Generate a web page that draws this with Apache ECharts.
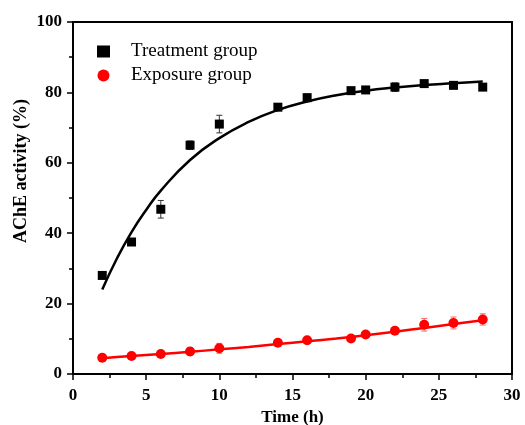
<!DOCTYPE html>
<html><head><meta charset="utf-8">
<script src="https://cdn.jsdelivr.net/npm/echarts@6/dist/echarts.min.js"></script>
<style>html,body{margin:0;padding:0;background:#fff}#c{width:525px;height:425px}</style>
</head><body><div id="c"></div>
<script>
var timeH = [2, 4, 6, 8, 10, 14, 16, 19, 20, 22, 24, 26, 28];
var treatment = [28, 37.5, 46.8, 65, 71, 75.8, 78.5, 80.5, 80.7, 81.5, 82.5, 82, 81.5];
var treatmentErr = [0.8, 0.6, 2.5, 1.2, 2.5, 0.6, 1.0, 0.5, 0.8, 1.2, 0.6, 0.6, 0.6];
var exposure = [4.6, 5.1, 5.7, 6.4, 7.3, 8.9, 9.6, 10.1, 11.2, 12.3, 14.0, 14.5, 15.5];
var exposureErr = [0.4, 0.4, 0.7, 1.0, 1.4, 0.5, 0.5, 0.5, 0.7, 0.6, 1.8, 1.7, 1.6];
var fitX = [2, 3, 4, 5, 6, 8, 10, 12, 14, 16, 18, 20, 22, 24, 26, 28];
var treatmentFit = [24, 32.8, 40.3, 46.6, 52.1, 60.8, 67, 71.6, 75, 77.4, 79.2, 80.5, 81.4, 82.1, 82.6, 83.1];
var exposureFit = [4.5, 4.8, 5.1, 5.4, 5.7, 6.3, 7.0, 7.7, 8.5, 9.3, 10.1, 11.0, 12.0, 13.1, 14.2, 15.3];
var xTicks = [0, 5, 10, 15, 20, 25, 30];
var yTicks = [0, 20, 40, 60, 80, 100];

function pairs(xs, ys){ return xs.map(function(x,i){ return [x, ys[i]]; }); }
function errData(xs, ys, es){ return xs.map(function(x,i){ return [x, ys[i], es[i]]; }); }
function errSeries(data, color){
  return {
    type:'custom', data:data, z:3, silent:true,
    renderItem:function(params, api){
      var x = api.value(0), y = api.value(1), e = api.value(2);
      var hi = api.coord([x, y+e]), lo = api.coord([x, y-e]);
      var w = 3;
      return {type:'group', children:[
        {type:'line', shape:{x1:hi[0],y1:hi[1],x2:lo[0],y2:lo[1]}, style:{stroke:color,lineWidth:1}},
        {type:'line', shape:{x1:hi[0]-w,y1:hi[1],x2:hi[0]+w,y2:hi[1]}, style:{stroke:color,lineWidth:1}},
        {type:'line', shape:{x1:lo[0]-w,y1:lo[1],x2:lo[0]+w,y2:lo[1]}, style:{stroke:color,lineWidth:1}}
      ]};
    }
  };
}
var serif = '"Liberation Serif","Times New Roman",serif';
var chart = echarts.init(document.getElementById('c'));
var axisCommon = {
  axisLine:{show:true, onZero:false, lineStyle:{color:'#000', width:2}},
  axisTick:{show:true, inside:false, length:6, lineStyle:{color:'#000', width:1.5}},
  minorTick:{show:true, splitNumber:2, length:4, lineStyle:{color:'#000', width:1.5}},
  splitLine:{show:false},
  axisLabel:{color:'#000', fontFamily:serif, fontWeight:'bold', fontSize:17},
  nameTextStyle:{color:'#000', fontFamily:serif, fontWeight:'bold', fontSize:17}
};
chart.setOption({
  animation:false,
  backgroundColor:'#fff',
  grid:{left:73, right:13, top:22, bottom:51, show:false, containLabel:false, outerBoundsMode:'none'},
  legend:{
    left:92, top:37, orient:'vertical', itemGap:5, itemWidth:13, itemHeight:12,
    textStyle:{fontFamily:serif, fontSize:19, color:'#000', padding:[0,0,0,16]},
    data:[{name:'Treatment group', icon:'rect'},{name:'Exposure group', icon:'circle'}]
  },
  graphic:[{
    type:'text', x:21, y:171, rotation:Math.PI/2,
    style:{text:'AChE activity (%)', fontFamily:serif, fontWeight:'bold', fontSize:18, fill:'#000', align:'center', verticalAlign:'middle'}
  }],
  xAxis:[Object.assign({}, axisCommon, {
    type:'value', min:0, max:30, interval:5, name:'Time (h)', nameLocation:'middle', nameGap:35,
    axisLabel:Object.assign({}, axisCommon.axisLabel, {margin:13})
  }), {
    type:'value', position:'top', min:0, max:30, interval:5,
    axisLine:{show:true, onZero:false, lineStyle:{color:'#000', width:2}}, axisTick:{show:false}, axisLabel:{show:false}, splitLine:{show:false}
  }],
  yAxis:[Object.assign({}, axisCommon, {
    type:'value', min:0, max:100, interval:20,
    axisLabel:Object.assign({}, axisCommon.axisLabel, {margin:11})
  }), {
    type:'value', position:'right', min:0, max:100, interval:20,
    axisLine:{show:true, onZero:false, lineStyle:{color:'#000', width:2}}, axisTick:{show:false}, axisLabel:{show:false}, splitLine:{show:false}
  }],
  series:[
    {type:'line', data:pairs(fitX, treatmentFit), smooth:true, showSymbol:false, silent:true,
     lineStyle:{color:'#000', width:2.5}, z:2},
    {type:'line', data:pairs(fitX, exposureFit), smooth:true, showSymbol:false, silent:true,
     lineStyle:{color:'#ff0000', width:2.5}, z:2},
    errSeries(errData(timeH, treatment, treatmentErr), '#333'),
    errSeries(errData(timeH, exposure, exposureErr), '#ff6666'),
    {name:'Treatment group', type:'scatter', data:pairs(timeH, treatment), symbol:'rect', symbolSize:9,
     itemStyle:{color:'#000', opacity:1}, z:4},
    {name:'Exposure group', type:'scatter', data:pairs(timeH, exposure), symbol:'circle', symbolSize:10,
     itemStyle:{color:'#ff0000', opacity:1}, z:4}
  ]
});
</script></body></html>
